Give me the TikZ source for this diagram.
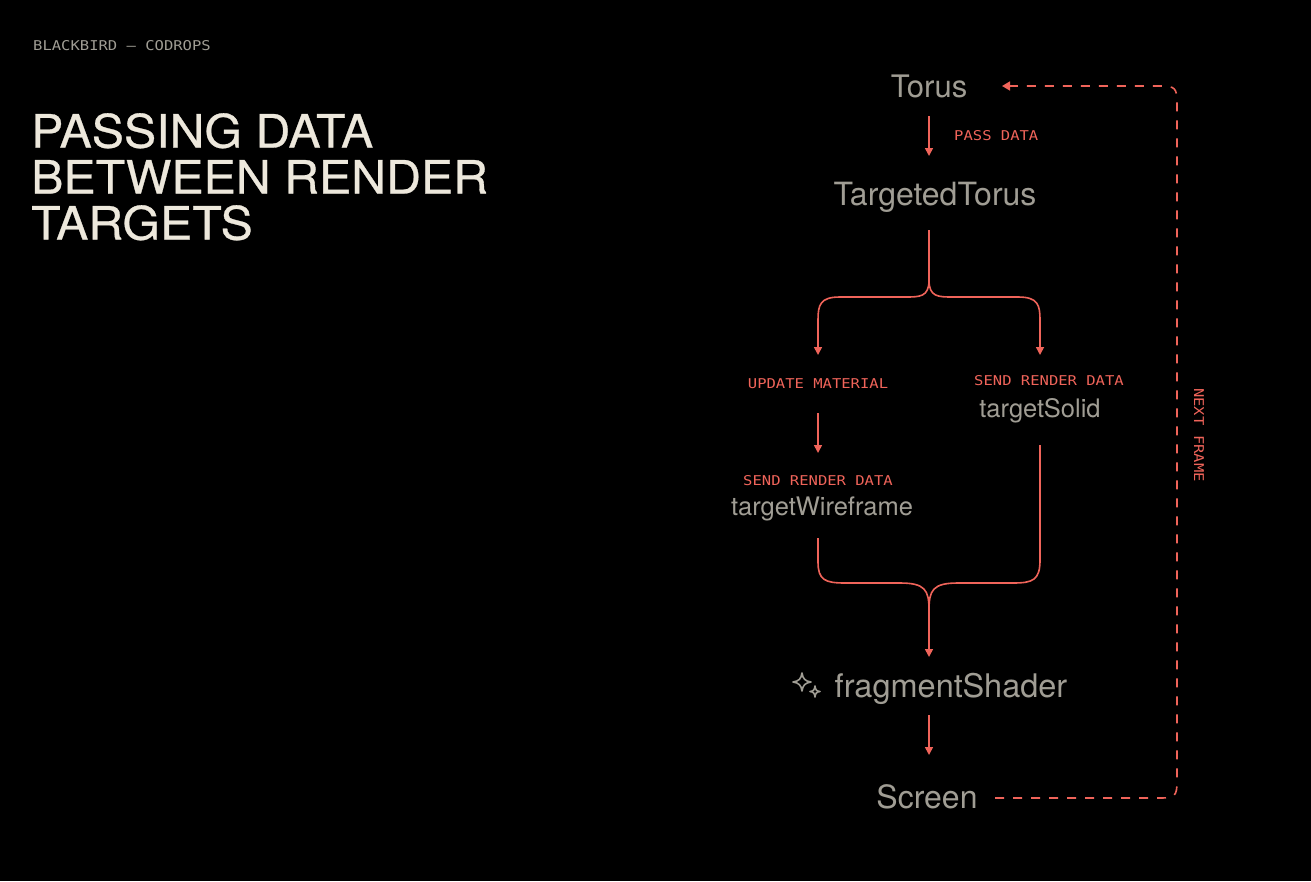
\documentclass[tikz,border=0pt]{standalone}
\usepackage{fontspec}
\setmainfont{TeX Gyre Heros}
\newfontfamily\monof[FakeStretch=1.15]{DejaVu Sans Mono}
\newfontfamily\titlef[FakeStretch=1.05,FakeBold=0.6]{TeX Gyre Heros}
\usetikzlibrary{arrows.meta}
\definecolor{redc}{HTML}{F0645A}
\definecolor{greyc}{HTML}{A09D94}
\definecolor{creamc}{HTML}{EDE8DC}
\tikzset{
  lbl/.style={text=greyc,font=\fontsize{32}{32}\selectfont,inner sep=0},
  mono/.style={text=redc,font=\monof\fontsize{13.5}{13.5}\selectfont,inner sep=0},
  flow/.style={draw=redc,line width=1.6pt,-{Triangle[length=8pt,width=8pt]}},
  flown/.style={draw=redc,line width=1.6pt},
  dashloop/.style={draw=redc,line width=1.6pt,dash pattern=on 9pt off 9pt}
}
\begin{document}
\begin{tikzpicture}[x=1pt,y=-1pt]
\fill[black] (0,0) rectangle (1311,881);
\useasboundingbox (0,0) rectangle (1311,881);
\node[anchor=west,text=greyc,font=\monof\fontsize{13.5}{13.5}\selectfont,inner sep=0] (hdr) at (33,46) {BLACKBIRD — CODROPS};
\node[anchor=north west,text=creamc,font=\titlef\fontsize{46}{46}\selectfont,align=left,inner sep=0] (title) at (31,113) {PASSING DATA\\BETWEEN RENDER\\TARGETS};
\node[lbl,font=\fontsize{31}{31}\selectfont] (torus) at (929,86) {Torus};
\node[lbl] (tt) at (935,197) {TargetedTorus};
\node[mono,anchor=west] (pd) at (954,136) {PASS DATA};
\draw[flow] (929,116) -- (929,156);
\node[mono] (um) at (818,384) {UPDATE MATERIAL};
\node[mono] (srd1) at (1049,381) {SEND RENDER DATA};
\node[lbl,font=\fontsize{25.5}{25.5}\selectfont] (ts) at (1040,411) {targetSolid};
\node[mono] (srd2) at (818,481) {SEND RENDER DATA};
\node[lbl,font=\fontsize{25.5}{25.5}\selectfont] (tw) at (822,509) {targetWireframe};
\node[lbl,font=\fontsize{32.5}{32.5}\selectfont] (fs) at (951,689) {fragmentShader};
\node[lbl] (scr) at (927,797) {Screen};
\node[mono,rotate=-90] (nf) at (1199,435) {NEXT FRAME};
% branch
\draw[flow] (929,230) -- (929,280) .. controls (929,297) and (920,297) .. (905,297) -- (840,297) .. controls (820,297) and (818,305) .. (818,320) -- (818,355);
\draw[flow] (929,280) .. controls (929,297) and (938,297) .. (953,297) -- (1018,297) .. controls (1038,297) and (1040,305) .. (1040,320) -- (1040,355);
\draw[flow] (818,413) -- (818,453);
% merge
\draw[flown] (818,538) -- (818,562) .. controls (818,580) and (825,583) .. (845,583) -- (900,583) .. controls (925,583) and (929,590) .. (929,610);
\draw[flow] (1040,445) -- (1040,560) .. controls (1040,580) and (1033,583) .. (1013,583) -- (958,583) .. controls (933,583) and (929,590) .. (929,610) -- (929,657);
\draw[flow] (929,715) -- (929,755);
% dashed loop
\draw[dashloop,-{Triangle[length=8pt,width=9pt]}] (995,798) -- (1160,798) .. controls (1175,798) and (1177,796) .. (1177,781) -- (1177,103) .. controls (1177,88) and (1175,86) .. (1160,86) -- (1002,86);
% sparkle
\begin{scope}[draw=greyc,line width=1.6pt,line join=round]
\draw (802,673) .. controls (803,679) and (805,681) .. (811,682) .. controls (805,683) and (803,685) .. (802,691) .. controls (801,685) and (799,683) .. (793,682) .. controls (799,681) and (801,679) .. (802,673) -- cycle;
\draw (815,686) .. controls (815.5,690) and (816.5,691) .. (820,691.5) .. controls (816.5,692) and (815.5,693) .. (815,697) .. controls (814.5,693) and (813.5,692) .. (810,691.5) .. controls (813.5,691) and (814.5,690) .. (815,686) -- cycle;
\end{scope}
\end{tikzpicture}
\end{document}
